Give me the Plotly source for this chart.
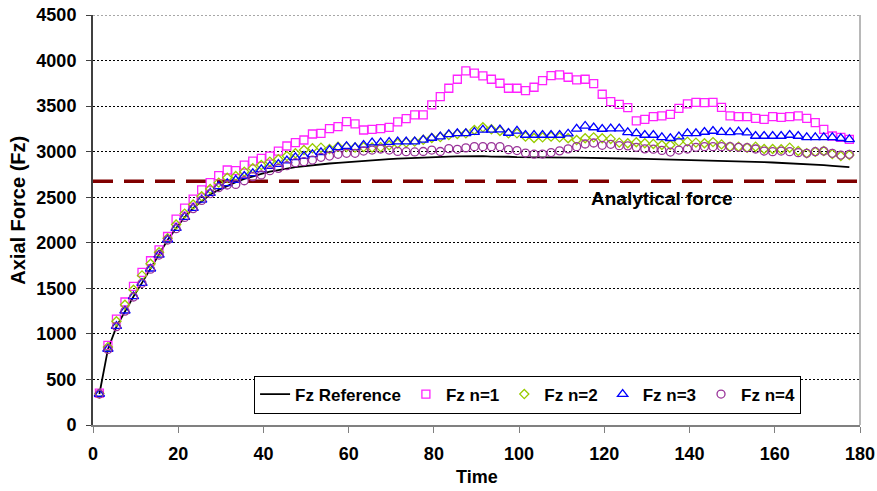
import plotly.graph_objects as go

time = [1.5, 3.5, 5.5, 7.5, 9.5, 11.5, 13.5, 15.5, 17.5, 19.5,
        21.5, 23.5, 25.5, 27.5, 29.5, 31.5, 33.5, 35.5, 37.5, 39.5,
        41.5, 43.5, 45.5, 47.5, 49.5, 51.5, 53.5, 55.5, 57.5, 59.5,
        61.5, 63.5, 65.5, 67.5, 69.5, 71.5, 73.5, 75.5, 77.5, 79.5,
        81.5, 83.5, 85.5, 87.5, 89.5, 91.5, 93.5, 95.5, 97.5, 99.5,
        101.5, 103.5, 105.5, 107.5, 109.5, 111.5, 113.5, 115.5, 117.5, 119.5,
        121.5, 123.5, 125.5, 127.5, 129.5, 131.5, 133.5, 135.5, 137.5, 139.5,
        141.5, 143.5, 145.5, 147.5, 149.5, 151.5, 153.5, 155.5, 157.5, 159.5,
        161.5, 163.5, 165.5, 167.5, 169.5, 171.5, 173.5, 175.5, 177.5]

fz_ref = [340, 830, 1080, 1250, 1410, 1560, 1715, 1870, 2030, 2160,
          2280, 2380, 2460, 2530, 2580, 2625, 2665, 2700, 2730, 2755,
          2780, 2800, 2815, 2830, 2842, 2852, 2862, 2870, 2877, 2885,
          2892, 2900, 2907, 2913, 2918, 2923, 2928, 2932, 2936, 2940,
          2943, 2946, 2948, 2950, 2950, 2950, 2946, 2948, 2944, 2940,
          2938, 2940, 2937, 2935, 2937, 2934, 2935, 2932, 2930, 2928,
          2930, 2926, 2924, 2922, 2920, 2918, 2915, 2913, 2911, 2909,
          2907, 2905, 2903, 2900, 2897, 2894, 2891, 2888, 2885, 2881,
          2877, 2873, 2869, 2865, 2860, 2852, 2845, 2838, 2830]

fz_n1 = [350, 874, 1163, 1350, 1521, 1675, 1803, 1923, 2069, 2260,
         2380, 2479, 2581, 2661, 2736, 2799, 2791, 2853, 2897, 2927,
         2952, 3007, 3062, 3099, 3128, 3194, 3201, 3253, 3275, 3330,
         3304, 3238, 3245, 3253, 3267, 3326, 3363, 3403, 3403, 3513,
         3604, 3696, 3795, 3886, 3861, 3832, 3795, 3751, 3696, 3696,
         3670, 3707, 3780, 3835, 3843, 3817, 3788, 3795, 3747, 3630,
         3550, 3520, 3483, 3337, 3355, 3385, 3392, 3410, 3476, 3524,
         3542, 3538, 3542, 3487, 3392, 3385, 3385, 3366, 3355, 3385,
         3377, 3385, 3392, 3366, 3319, 3245, 3172, 3157, 3135]

fz_n2 = [345, 855, 1138, 1320, 1484, 1642, 1769, 1895, 2050, 2200,
         2320, 2420, 2510, 2590, 2660, 2714, 2733, 2780, 2817, 2853,
         2890, 2916, 2952, 2982, 3018, 3037, 3044, 3029, 3055, 3050,
         3045, 3050, 3045, 3050, 3070, 3090, 3100, 3110, 3130, 3150,
         3160, 3183, 3194, 3201, 3238, 3267, 3245, 3227, 3201, 3201,
         3165, 3150, 3157, 3165, 3157, 3147, 3128, 3147, 3157, 3147,
         3140, 3099, 3092, 3103, 3092, 3085, 3073, 3073, 3110, 3110,
         3099, 3092, 3105, 3080, 3055, 3055, 3044, 3055, 3029, 3029,
         3026, 3044, 3007, 2982, 3000, 3007, 2974, 2952, 2963]

fz_n3 = [340, 834, 1085, 1254, 1411, 1558, 1715, 1868, 2033, 2161,
         2282, 2380, 2471, 2545, 2620, 2652, 2689, 2733, 2762, 2806,
         2842, 2864, 2901, 2938, 2952, 2971, 2993, 3018, 3048, 3060,
         3048, 3073, 3099, 3099, 3105, 3110, 3110, 3110, 3130, 3150,
         3165, 3190, 3201, 3201, 3215, 3240, 3240, 3243, 3205, 3228,
         3183, 3183, 3183, 3183, 3183, 3197, 3251, 3282, 3265, 3249,
         3253, 3253, 3212, 3201, 3183, 3183, 3157, 3147, 3165, 3201,
         3201, 3216, 3227, 3215, 3212, 3220, 3209, 3172, 3172, 3172,
         3172, 3183, 3172, 3157, 3157, 3157, 3157, 3147, 3135]

fz_n4 = [340, 830, 1080, 1250, 1405, 1555, 1710, 1865, 2030, 2155,
         2278, 2375, 2465, 2540, 2605, 2634, 2640, 2681, 2725, 2744,
         2791, 2817, 2846, 2879, 2890, 2908, 2938, 2952, 2971, 2982,
         2982, 3007, 3018, 3029, 3018, 3003, 3000, 2997, 3002, 3018,
         3002, 3033, 3026, 3042, 3055, 3055, 3055, 3055, 3022, 3012,
         2985, 2972, 2974, 2990, 3009, 3031, 3055, 3084, 3095, 3070,
         3081, 3066, 3064, 3048, 3031, 3027, 3014, 2996, 3018, 3029,
         3048, 3055, 3055, 3055, 3055, 3048, 3044, 3029, 3007, 3000,
         3007, 3000, 2989, 2982, 3000, 3007, 2982, 2963, 2971]

analytical_force = 2675
analytical_label = "Analytical force"
annot_x, annot_y = 133.6, 2482
x_title = "Time"
y_title = "Axial Force (Fz)"
x_ticks = [0, 20, 40, 60, 80, 100, 120, 140, 160, 180]
y_ticks = [0, 500, 1000, 1500, 2000, 2500, 3000, 3500, 4000, 4500]

FONT = "Liberation Sans, Arial, sans-serif"
FS = 18

fig = go.Figure()

fig.add_trace(go.Scatter(x=[0, 180], y=[analytical_force, analytical_force], mode="lines",
                         line=dict(color="#800000", width=3.5, dash="20px,11px"),
                         showlegend=False, hoverinfo="skip"))

fig.add_trace(go.Scatter(x=time, y=fz_ref, mode="lines", name="Fz Reference",
                         line=dict(color="black", width=1.8)))
fig.add_trace(go.Scatter(x=time, y=fz_n1, mode="markers", name="Fz n=1",
                         marker=dict(symbol="square-open", size=8, color="#FF22FF",
                                     line=dict(width=1.3))))
fig.add_trace(go.Scatter(x=time, y=fz_n2, mode="markers", name="Fz n=2",
                         marker=dict(symbol="diamond-open", size=7, color="#99CC00",
                                     line=dict(width=1.3))))
fig.add_trace(go.Scatter(x=time, y=fz_n3, mode="markers", name="Fz n=3",
                         marker=dict(symbol="triangle-up-open", size=9, color="#0000FF",
                                     line=dict(width=1.3))))
fig.add_trace(go.Scatter(x=time, y=fz_n4, mode="markers", name="Fz n=4",
                         marker=dict(symbol="circle-open", size=8, color="#993399",
                                     line=dict(width=1.3))))

fig.add_annotation(x=annot_x, y=annot_y, text=analytical_label, showarrow=False,
                   font=dict(family=FONT, size=19, color="black", weight="bold"))

# axis titles
fig.add_annotation(xref="paper", yref="paper", x=0.5, y=-0.128, yanchor="middle",
                   text=x_title, showarrow=False,
                   font=dict(family=FONT, size=18, color="black", weight="bold"))
fig.add_annotation(xref="paper", yref="paper", x=-0.0978, y=0.525, xanchor="center",
                   text=y_title, showarrow=False, textangle=-90,
                   font=dict(family=FONT, size=20, color="black", weight="bold"))

# right plot border and top dotted gridline (at the range edge)
fig.add_shape(type="line", xref="paper", yref="paper", x0=1, x1=1, y0=0, y1=1,
              line=dict(color="#A0A0A0", width=1.5))
fig.add_shape(type="line", xref="paper", yref="y", x0=0, x1=1, y0=y_ticks[-1], y1=y_ticks[-1],
              line=dict(color="#505050", width=1, dash="2px,2px"))

fig.update_layout(
    width=877, height=491,
    margin=dict(l=93, r=17, t=15, b=66, autoexpand=False),
    paper_bgcolor="white", plot_bgcolor="white",
    font=dict(family=FONT, size=FS, color="black"),
    showlegend=True,
    legend=dict(orientation="h", x=0.21, y=0.028, xanchor="left", yanchor="bottom",
                bgcolor="white", bordercolor="black", borderwidth=1,
                font=dict(family=FONT, size=17, color="black", weight="bold"),
                tracegroupgap=0),
    xaxis=dict(range=[0, 180], tickvals=x_ticks, automargin=False,
               showgrid=False, zeroline=False, showline=True, linecolor="#808080",
               linewidth=1.5, ticks="outside", ticklen=6, tickcolor="#808080",
               tickfont=dict(family=FONT, size=FS, weight="bold"),
               ticklabelstandoff=6, ticklabeloverflow="allow"),
    yaxis=dict(range=[0, 4500], tickvals=y_ticks, automargin=False,
               showgrid=True, gridcolor="black", gridwidth=1, griddash="2px,2px",
               zeroline=False, showline=True, linecolor="#404040", linewidth=2,
               ticks="outside", ticklen=5, tickcolor="#404040",
               tickfont=dict(family=FONT, size=FS, weight="bold"),
               ticklabelstandoff=6, ticklabeloverflow="allow"),
)

# remove the browser's default 8px page margin so the figure fills the window exactly
fig.write_html("out.html", config={"displayModeBar": False},
               post_script="document.body.style.margin='0px';document.body.style.overflow='hidden';")
